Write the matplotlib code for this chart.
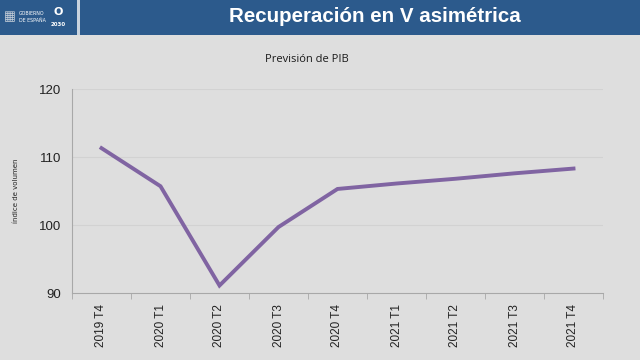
import matplotlib.pyplot as plt
import numpy as np

# Previsión de PIB, índice de volumen
quarters = ["2019 T4", "2020 T1", "2020 T2", "2020 T3", "2020 T4",
            "2021 T1", "2021 T2", "2021 T3", "2021 T4"]
pib = [111.3, 105.7, 91.1, 99.7, 105.3, 106.1, 106.8, 107.6, 108.3]
yticks = [90, 100, 110, 120]

bg = "#dedede"
blue = "#2c5a8c"
purple = "#8064a2"

fig = plt.figure(figsize=(6.4, 3.6), dpi=100)
fig.patch.set_facecolor(bg)

# header band with logo block on the left
fig.patches.append(plt.Rectangle((0, 1 - 35 / 360), 1, 35 / 360, transform=fig.transFigure,
                                 facecolor=blue, edgecolor="none"))
fig.patches.append(plt.Rectangle((77 / 640, 1 - 35 / 360), 3 / 640, 35 / 360, transform=fig.transFigure,
                                 facecolor="#c9d3de", edgecolor="none"))
fig.text(19 / 640, 1 - 17 / 360, "GOBIERNO\nDE ESPAÑA", fontsize=3.4, color="white",
         va="center", ha="left", linespacing=1.3)
fig.text(58 / 640, 1 - 24 / 360, "2030", fontsize=4, color="white", fontweight="bold",
         va="center", ha="center")
fig.text(58 / 640, 1 - 12 / 360, "O", fontsize=8, color="white", fontweight="bold",
         va="center", ha="center")
fig.text(4 / 640, 1 - 17 / 360, "▦", fontsize=9, color="#c8d0da", va="center", ha="left")
fig.text(375 / 640, 1 - 16 / 360, "Recuperación en V asimétrica", fontsize=14.8, color="white",
         fontweight="bold", ha="center", va="center", family="Liberation Sans")

ax = fig.add_axes([72 / 640, 1 - 293 / 360, 531 / 640, 204 / 360])
ax.set_facecolor(bg)
x = np.arange(len(quarters))
ax.plot(x, pib, color=purple, linewidth=2.8, solid_joinstyle="miter")

ax.set_xlim(-0.5, len(quarters) - 0.5)
ax.set_ylim(90, 120)
ax.set_yticks(yticks)
ax.set_yticklabels([str(v) for v in yticks], fontsize=9.5, color="#222222",
                   family="Liberation Sans")
ax.set_xticks(x)
ax.set_xticklabels(quarters, rotation=90, fontsize=8.5, color="#222222",
                   family="Liberation Sans")
ax.tick_params(axis="x", which="major", length=0, pad=8)
ax.set_xticks(np.arange(-0.5, len(quarters), 1), minor=True)
ax.tick_params(axis="x", which="minor", length=4, color="#a8a8a8", direction="out")
ax.tick_params(axis="y", length=0, pad=8)

for v in yticks[1:]:
    ax.axhline(v, color="#d2d2d2", linewidth=0.8, zorder=0)

for s in ["top", "right"]:
    ax.spines[s].set_visible(False)
ax.spines["left"].set_color("#a8a8a8")
ax.spines["bottom"].set_color("#a8a8a8")

ax.set_ylabel("índice de volumen", fontsize=5, color="#222222", labelpad=14)
fig.text(307 / 640, 1 - 60 / 360, "Previsión de PIB", fontsize=8, color="#1a1a1a",
         ha="center", va="center", family="Open Sans")

fig.savefig("out.png", dpi=100, facecolor=bg)
